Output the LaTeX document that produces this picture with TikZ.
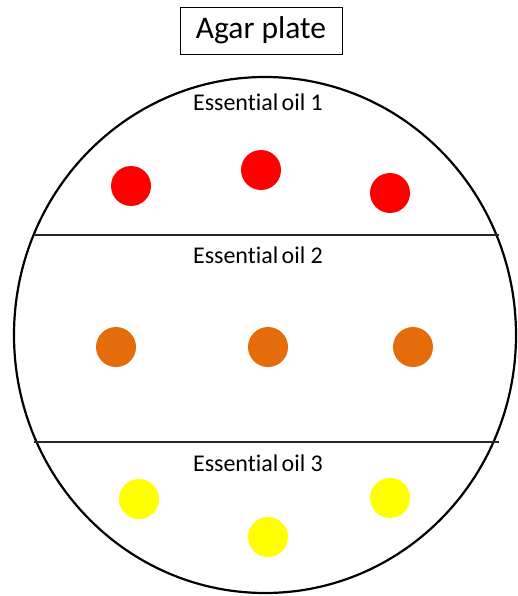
\documentclass[tikz,border=0pt]{standalone}
\usepackage{fontspec}
\setmainfont{Carlito}[Ligatures={NoCommon}]
\usetikzlibrary{shapes.geometric}
\definecolor{oilred}{HTML}{FF0000}
\definecolor{oilorange}{HTML}{E46C0A}
\definecolor{oilyellow}{HTML}{FFFF00}
\begin{document}
\begin{tikzpicture}[x=1pt,y=-1pt,
  dot/.style={circle,inner sep=0pt,minimum size=40pt},
  label/.style={anchor=base,font=\fontsize{24}{28}\selectfont,inner sep=0pt},
  divider/.style={line width=1.2pt,black!85}]
\useasboundingbox (0,0) rectangle (517,596);
\node[draw,line width=0.9pt,minimum width=162pt,minimum height=47pt,inner sep=0pt,
  font=\fontsize{31.5}{36}\selectfont] (title) at (261,30.5) {Agar plate};
\node[draw,ellipse,line width=2.2pt,minimum width=502pt,minimum height=516pt,inner sep=0pt] (plate) at (265,335) {};
\coordinate (l1a) at (34,235); \coordinate (l1b) at (499,235);
\coordinate (l2a) at (34,442); \coordinate (l2b) at (499,442);
\draw[divider] (l1a) -- (l1b);
\draw[divider] (l2a) -- (l2b);
\node[label] (t1) at (258,111) {Essential\hspace{-0.09em} oil 1};
\node[label] (t2) at (258,263) {Essential\hspace{-0.09em} oil 2};
\node[label] (t3) at (258,471) {Essential\hspace{-0.09em} oil 3};
\node[dot,fill=oilred] (r1) at (131,186) {};
\node[dot,fill=oilred] (r2) at (261,170) {};
\node[dot,fill=oilred] (r3) at (390,193) {};
\node[dot,fill=oilorange] (o1) at (116,347) {};
\node[dot,fill=oilorange] (o2) at (268,347) {};
\node[dot,fill=oilorange] (o3) at (413,347) {};
\node[dot,fill=oilyellow] (y1) at (139,499) {};
\node[dot,fill=oilyellow] (y2) at (268,537) {};
\node[dot,fill=oilyellow] (y3) at (390,498) {};
\end{tikzpicture}
\end{document}
